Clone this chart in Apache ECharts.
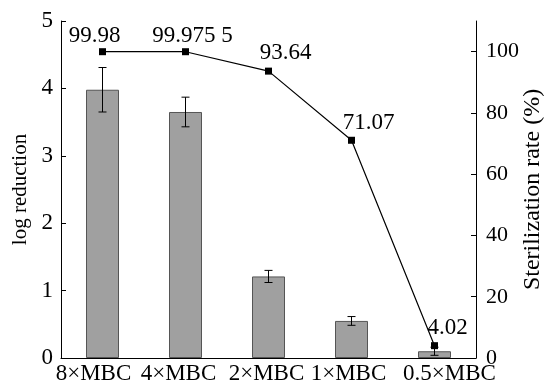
<!DOCTYPE html>
<html>
<head>
<meta charset="utf-8">
<script src="https://cdn.jsdelivr.net/npm/echarts@6/dist/echarts.min.js"></script>
<style>html,body{margin:0;padding:0;background:#fff}#c{width:547px;height:387px}</style>
</head>
<body>
<div id="c"></div>
<script>
var categories = ["8×MBC", "4×MBC", "2×MBC", "1×MBC", "0.5×MBC"];
var logReduction = [3.98, 3.65, 1.21, 0.55, 0.10];
var logError = [0.33, 0.22, 0.09, 0.065, 0.06];
var sterilizationRate = [99.98, 99.9755, 93.64, 71.07, 4.02];
var rateLabels = ["99.98", "99.975 5", "93.64", "71.07", "4.02"];
var leftTicks = [0, 1, 2, 3, 4, 5];
var rightTicks = [0, 20, 40, 60, 80, 100];

// layout-only tweaks (pixel shifts), kept separate from data
var labelOffsets = [[-8, 0], [7, 0], [17, -2], [17, -1], [13, -2]];
var catShifts = [-9, -7, -2, -3, 15];
var FONT = "Liberation Serif";

var chart = echarts.init(document.getElementById('c'), null, {renderer: 'canvas'});
var errData = logReduction.map(function (v, i) { return [i, v - logError[i], v + logError[i]]; });
var lineData = sterilizationRate.map(function (v, i) {
  return {value: v, label: {offset: labelOffsets[i]}};
});
var rich = {};
catShifts.forEach(function (s, i) {
  rich['c' + i] = {
    fontFamily: FONT, fontSize: 23, color: '#000',
    padding: s < 0 ? [0, -2 * s, 0, 0] : [0, 0, 0, 2 * s]
  };
});

chart.setOption({
  animation: false,
  backgroundColor: '#fff',
  grid: {left: 61, right: 71, top: 21, bottom: 29, containLabel: false, outerBoundsMode: 'none'},
  xAxis: {
    type: 'category',
    data: categories,
    axisLine: {lineStyle: {color: '#000', width: 1}},
    axisTick: {inside: true, alignWithLabel: true, length: 4, lineStyle: {color: '#000'}},
    axisLabel: {
      color: '#000', fontFamily: FONT, fontSize: 23, margin: 4, interval: 0, hideOverlap: false,
      formatter: function (v, i) { return '{c' + i + '|' + v + '}'; },
      rich: rich
    }
  },
  yAxis: [{
    type: 'value', min: 0, max: 5, interval: 1,
    name: 'log reduction', nameLocation: 'middle', nameGap: 30, nameMoveOverlap: false,
    nameTextStyle: {color: '#000', fontFamily: FONT, fontSize: 21},
    axisLine: {show: true, lineStyle: {color: '#000', width: 1}},
    axisTick: {show: true, inside: true, length: 5, lineStyle: {color: '#000'}},
    axisLabel: {color: '#000', fontFamily: FONT, fontSize: 23, margin: 8, customValues: leftTicks},
    splitLine: {show: false}
  }, {
    type: 'value', min: 0, max: 110, position: 'right',
    name: 'Sterilization rate (%)', nameLocation: 'middle', nameGap: 45, nameMoveOverlap: false,
    nameTextStyle: {color: '#000', fontFamily: FONT, fontSize: 24},
    axisLine: {show: true, lineStyle: {color: '#000', width: 1}},
    axisTick: {show: true, inside: true, length: 5, customValues: rightTicks, lineStyle: {color: '#000'}},
    axisLabel: {color: '#000', fontFamily: FONT, fontSize: 22, margin: 10, customValues: rightTicks},
    splitLine: {show: false}
  }],
  series: [{
    type: 'bar',
    data: logReduction,
    yAxisIndex: 0,
    barWidth: 33,
    itemStyle: {color: '#a0a0a0', borderColor: '#555', borderWidth: 1},
    z: 2
  }, {
    type: 'custom',
    yAxisIndex: 0,
    data: errData,
    z: 3,
    renderItem: function (params, api) {
      var x = api.value(0);
      var lo = api.coord([x, api.value(1)]);
      var hi = api.coord([x, api.value(2)]);
      var w = 4;
      var st = {stroke: '#000', lineWidth: 1};
      return {type: 'group', children: [
        {type: 'line', shape: {x1: lo[0], y1: lo[1], x2: hi[0], y2: hi[1]}, style: st},
        {type: 'line', shape: {x1: lo[0] - w, y1: lo[1], x2: lo[0] + w, y2: lo[1]}, style: st},
        {type: 'line', shape: {x1: hi[0] - w, y1: hi[1], x2: hi[0] + w, y2: hi[1]}, style: st}
      ]};
    }
  }, {
    type: 'line',
    yAxisIndex: 1,
    data: lineData,
    symbol: 'rect',
    symbolSize: 7,
    itemStyle: {color: '#000'},
    lineStyle: {color: '#000', width: 1.2},
    z: 4,
    label: {
      show: true, position: 'top', distance: 1,
      color: '#000', fontFamily: FONT, fontSize: 23,
      formatter: function (p) { return rateLabels[p.dataIndex]; }
    }
  }]
});
</script>
</body>
</html>
